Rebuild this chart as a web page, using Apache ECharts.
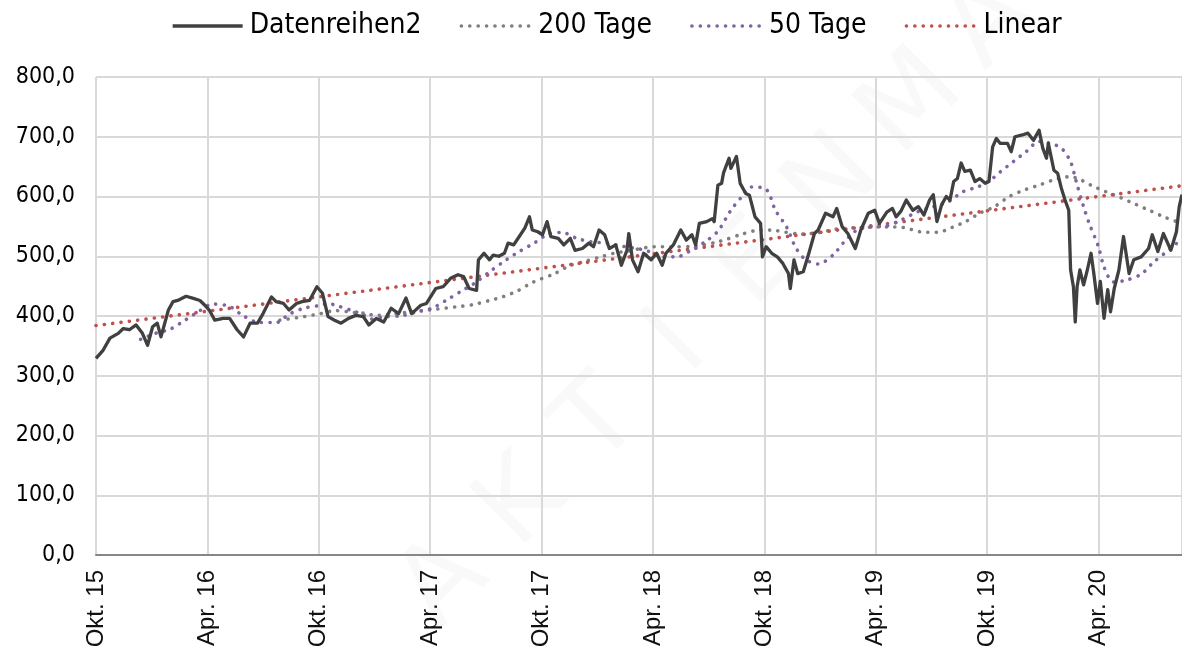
<!DOCTYPE html>
<html>
<head>
<meta charset="utf-8">
<title>Kursverlauf</title>
<script src="https://cdn.jsdelivr.net/npm/echarts@6/dist/echarts.min.js"></script>
<style>
	html, body {
		margin: 0;
		padding: 0;
		background: #fff;
	}
	#statistics {
		width: 1182px;
		height: 652px;
	}
</style>
</head>
<body>
<div id="statistics"></div>
<script>
	// x = Monate seit Okt. 15
	var xLabels = ['Okt. 15', 'Apr. 16', 'Okt. 16', 'Apr. 17', 'Okt. 17', 'Apr. 18', 'Okt. 18', 'Apr. 19', 'Okt. 19', 'Apr. 20'];
	var yTicks = [0, 100, 200, 300, 400, 500, 600, 700, 800];

	var kurs = [
		[0,329],[0.39,343],[0.75,363],[1.2,371],[1.47,379],[1.8,377],[2.16,385],[2.5,371],[2.78,351],[3.05,382],
		[3.3,388],[3.5,365],[3.9,410],[4.15,424],[4.4,426],[4.85,433],[5.2,430],[5.6,426],[5.86,418],[6.1,410],
		[6.4,393],[6.85,396],[7.2,396],[7.6,377],[7.95,365],[8.3,388],[8.7,388],[9.0,404],[9.45,432],[9.7,424],
		[10.1,421],[10.4,410],[10.8,421],[11.1,424],[11.5,426],[11.9,449],[12.2,438],[12.5,399],[12.85,393],[13.2,388],
		[13.6,396],[14.0,401],[14.4,399],[14.7,385],[15.1,396],[15.5,390],[15.9,413],[16.3,404],[16.7,430],[17.0,404],
		[17.5,418],[17.8,421],[18.3,446],[18.7,449],[19.1,463],[19.5,469],[19.8,466],[20.1,446],[20.5,443],[20.6,494],
		[20.9,505],[21.2,494],[21.4,502],[21.7,500],[22.0,505],[22.2,522],[22.5,519],[22.8,533],[23.1,547],[23.35,566],
		[23.5,544],[23.8,541],[24.05,536],[24.3,558],[24.5,533],[24.9,530],[25.2,519],[25.55,530],[25.8,510],[26.2,513],
		[26.55,522],[26.8,516],[27.1,544],[27.4,536],[27.65,513],[28.0,519],[28.3,485],[28.6,510],[28.7,538],[28.9,494],
		[29.2,474],[29.5,505],[29.9,494],[30.2,505],[30.5,485],[30.7,505],[31.1,519],[31.5,544],[31.8,527],[32.1,536],
		[32.3,519],[32.5,555],[32.9,558],[33.2,563],[33.3,558],[33.5,619],[33.7,622],[33.8,639],[34.1,664],[34.2,647],
		[34.5,667],[34.7,622],[35.0,605],[35.2,602],[35.5,566],[35.8,555],[35.9,499],[36.1,516],[36.4,505],[36.7,499],
		[37.0,488],[37.3,471],[37.4,446],[37.6,494],[37.8,471],[38.1,474],[38.4,505],[38.7,538],[38.9,544],[39.3,572],
		[39.7,566],[39.9,580],[40.2,549],[40.5,538],[40.9,513],[41.2,544],[41.6,572],[41.95,577],[42.2,555],[42.6,574],
		[42.9,580],[43.1,566],[43.35,575],[43.65,594],[44.0,577],[44.3,583],[44.6,569],[44.9,594],[45.1,603],[45.3,558],
		[45.55,586],[45.8,600],[46.0,594],[46.2,625],[46.4,630],[46.6,656],[46.8,642],[47.1,644],[47.35,625],[47.6,630],
		[47.9,622],[48.1,625],[48.3,683],[48.5,697],[48.7,689],[49.1,689],[49.3,675],[49.5,700],[49.9,703],[50.2,706],
		[50.5,694],[50.8,711],[51.0,681],[51.2,664],[51.3,689],[51.6,644],[51.8,639],[52.0,614],[52.2,594],[52.4,577],
		[52.5,477],[52.65,449],[52.75,390],[52.85,449],[53.0,477],[53.2,452],[53.4,477],[53.6,505],[53.75,471],[53.95,421],
		[54.1,458],[54.3,396],[54.5,444],[54.65,407],[54.85,446],[55.1,477],[55.35,533],[55.65,471],[55.9,494],[56.3,499],
		[56.7,513],[56.9,536],[57.2,508],[57.5,538],[57.9,510],[58.2,541],[58.35,583],[58.5,603]
	];

	var tage200 = [
		[9.9,393],[11.2,399],[12.1,404],[12.9,409],[13.9,406],[14.6,404],[15.0,401],[17.0,407],[17.9,410],[19.6,416],
		[20.3,419],[21.2,426],[21.9,432],[22.7,442],[23.5,456],[24.7,471],[25.5,484],[26.3,491],[27.2,499],[27.9,505],
		[28.7,509],[30.1,516],[31.1,516],[32.3,517],[33.6,525],[34.8,537],[35.8,544],[36.6,543],[38.0,537],[39.0,540],
		[40.0,546],[41.2,548],[42.6,549],[43.5,548],[44.4,541],[45.3,540],[46.1,548],[46.9,559],[47.6,572],[48.4,583],
		[49.2,600],[50.1,612],[50.8,619],[51.6,628],[52.4,633],[52.9,630],[53.6,619],[54.4,608],[55.2,598],[56.0,587],
		[56.8,576],[57.6,565],[58.5,555]
	];

	var tage50 = [
		[2.4,361],[3.2,371],[4.0,378],[4.8,393],[5.5,407],[6.3,420],[7.2,416],[7.9,401],[8.8,389],[9.7,389],
		[10.4,403],[11.2,413],[12.1,418],[12.5,421],[12.9,418],[13.7,410],[14.4,402],[14.8,395],[15.6,399],[16.4,400],
		[17.3,407],[18.1,413],[18.9,427],[19.7,442],[20.4,455],[21.2,474],[22.1,494],[22.8,508],[23.6,522],[24.3,536],
		[25.1,540],[25.9,530],[26.7,524],[27.5,522],[28.5,516],[29.3,512],[29.7,509],[30.5,499],[31.3,499],[32.0,509],
		[32.8,524],[33.5,542],[34.2,577],[34.8,600],[35.3,616],[36.1,612],[36.6,577],[37.2,549],[37.7,514],[38.2,495],
		[38.9,487],[39.7,502],[40.3,524],[41.0,544],[41.7,549],[42.6,551],[43.4,561],[44.3,575],[45.1,583],[45.9,591],
		[46.7,608],[47.5,616],[48.2,628],[48.7,641],[49.4,658],[50.1,675],[50.8,692],[51.4,689],[52.0,681],[52.5,658],
		[52.8,625],[53.2,583],[53.5,555],[54.0,516],[54.3,482],[54.8,457],[55.5,460],[56.3,470],[57.0,491],[57.9,513],
		[58.5,530]
	];

	var linear = [[0,384],[58.5,618]];

	var seriesNames = ['Datenreihen2', '200 Tage', '50 Tage', 'Linear'];
	var seriesColors = ['#404040', '#7f7f7f', '#8064a2', '#c0504d'];
	var watermark = ['A', 'K', 'T', 'I', 'E', 'N', 'M', 'A'];

	var fontMain = '"DejaVu Sans Condensed", "DejaVu Sans", sans-serif';
	var dots = [0.1, 8.3];

	function lineStyleOf(i) {
		if (i === 0) {
			return {color: seriesColors[0], width: 3.3, type: 'solid', join: 'round'};
		}
		return {color: seriesColors[i], width: 3.6, type: dots, cap: 'round'};
	}

	// blasses Wasserzeichen diagonal
	var marks = [];
	for (var w = 0; w < watermark.length; w++) {
		marks.push({
			type: 'text',
			x: 445 + w * 78,
			y: 585 - w * 80,
			rotation: Math.PI / 4,
			z: -10,
			silent: true,
			style: {
				text: watermark[w],
				fill: 'rgba(0,0,0,0.022)',
				font: '110px "DejaVu Sans", sans-serif',
				align: 'center',
				verticalAlign: 'middle'
			}
		});
	}

	var myChart = echarts.init(document.getElementById('statistics'), null, {renderer: 'canvas'});
	var option = {
		animation: false,
		backgroundColor: '#fff',
		graphic: marks,
		legend: {
			left: 166,
			top: 7,
			itemWidth: 70,
			itemHeight: 14,
			itemGap: 38,
			textStyle: {
				fontFamily: fontMain,
				fontSize: 28,
				color: '#000',
				padding: [0, 0, 0, 2]
			},
			data: seriesNames.map(function (n, i) {
				return {name: n, itemStyle: {opacity: 0}, lineStyle: lineStyleOf(i)};
			})
		},
		grid: {
			left: 96,
			right: 0,
			top: 77,
			bottom: 97
		},
		xAxis: {
			type: 'value',
			min: 0,
			max: 58.5,
			interval: 6,
			axisLine: {show: true, onZero: false, lineStyle: {color: '#878787', width: 2}},
			axisTick: {show: false},
			splitLine: {show: true, lineStyle: {color: '#d9d9d9', width: 2}},
			axisLabel: {
				rotate: 90,
				margin: 15,
				showMaxLabel: false,
				fontFamily: '"Liberation Sans", Arial, sans-serif',
				fontSize: 24,
				color: '#111',
				formatter: function (v) {
					var i = Math.round(v / 6);
					return xLabels[i] || '';
				}
			}
		},
		yAxis: {
			type: 'value',
			min: yTicks[0],
			max: yTicks[yTicks.length - 1],
			interval: 100,
			axisLine: {show: false},
			axisTick: {show: false},
			splitLine: {show: true, lineStyle: {color: '#d9d9d9', width: 2}},
			axisLabel: {
				margin: 21,
				fontFamily: fontMain,
				fontSize: 23,
				color: '#000',
				formatter: function (v) {
					return v.toFixed(1).replace('.', ',');
				}
			}
		},
		series: [
			{
				name: seriesNames[0],
				type: 'line',
				symbol: 'none',
				data: kurs,
				z: 5,
				lineStyle: lineStyleOf(0),
				itemStyle: {color: seriesColors[0]}
			},
			{
				name: seriesNames[1],
				type: 'line',
				symbol: 'none',
				smooth: 0.3,
				data: tage200,
				z: 3,
				lineStyle: lineStyleOf(1),
				itemStyle: {color: seriesColors[1]}
			},
			{
				name: seriesNames[2],
				type: 'line',
				symbol: 'none',
				smooth: 0.3,
				data: tage50,
				z: 4,
				lineStyle: lineStyleOf(2),
				itemStyle: {color: seriesColors[2]}
			},
			{
				name: seriesNames[3],
				type: 'line',
				symbol: 'none',
				data: linear,
				z: 3,
				lineStyle: lineStyleOf(3),
				itemStyle: {color: seriesColors[3]}
			}
		]
	};

	myChart.setOption(option);
</script>
</body>
</html>
